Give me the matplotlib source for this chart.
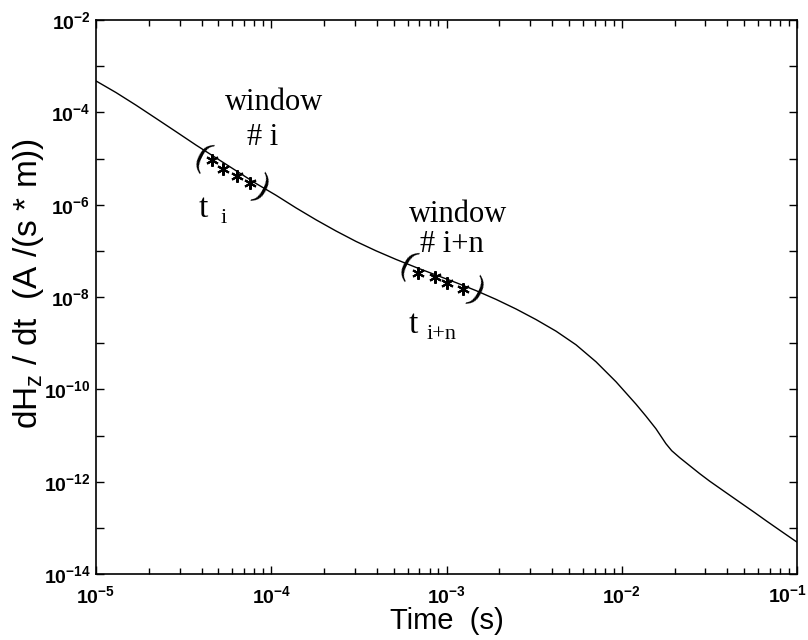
import matplotlib
matplotlib.use("Agg")
import matplotlib.pyplot as plt
from matplotlib.ticker import LogLocator, FuncFormatter, NullLocator
from matplotlib.transforms import blended_transform_factory, ScaledTranslation
import numpy as np

# ---- data (log10 units) ----
log10_time_s = [-5.000, -4.886, -4.772, -4.658, -4.543, -4.429, -4.315, -4.201,
                -4.087, -3.973, -3.859, -3.744, -3.630, -3.516, -3.402, -3.288,
                -3.174, -3.060, -2.946, -2.832, -2.717, -2.603, -2.489, -2.375,
                -2.261, -2.147, -2.033, -1.919, -1.862, -1.805, -1.748, -1.715,
                -1.669, -1.612, -1.555, -1.498, -1.413, -1.327, -1.241, -1.173,
                -1.087, -1.000]
log10_dhz_dt = [-3.320, -3.571, -3.844, -4.130, -4.420, -4.710, -4.987, -5.264,
                -5.541, -5.796, -6.069, -6.329, -6.571, -6.797, -7.000, -7.186,
                -7.359, -7.524, -7.688, -7.861, -8.052, -8.260, -8.489, -8.740,
                -9.035, -9.403, -9.835, -10.320, -10.580, -10.853, -11.177, -11.329,
                -11.481, -11.654, -11.827, -11.990, -12.216, -12.444, -12.671, -12.855,
                -13.082, -13.310]

win_i_t = [4.59e-5, 5.31e-5, 6.38e-5, 7.57e-5]
win_i_v = [9.3e-6, 5.96e-6, 4.2e-6, 2.96e-6]
win_n_t = [6.87e-4, 8.59e-4, 1.007e-3, 1.24e-3]
win_n_v = [3.34e-8, 2.74e-8, 2.03e-8, 1.50e-8]

x_label = "Time  (s)"
y_label = r"dH$_\mathregular{z}$ / dt  (A /(s * m))"

time_s = 10.0 ** np.array(log10_time_s)
dhz_dt = 10.0 ** np.array(log10_dhz_dt)

# ---- figure ----
plt.rcParams['font.family'] = ['Liberation Sans', 'DejaVu Sans']
plt.rcParams['mathtext.default'] = 'regular'

fig = plt.figure(figsize=(8.08, 6.4), dpi=100)
ax = fig.add_axes([96/808, 1-574/640, (797-96)/808, (574-20)/640])
ax.set_xscale('log')
ax.set_yscale('log')
ax.set_xlim(1e-5, 1e-1)
ax.set_ylim(1e-14, 1e-2)

ax.plot(time_s, dhz_dt, color='black', lw=1.0)

ast = (6, 2, 0)
ax.plot(win_i_t, win_i_v, ls='none', marker=ast, ms=9, mew=1.5, color='black')
ax.plot(win_n_t, win_n_v, ls='none', marker=ast, ms=9, mew=1.5, color='black')

serif = ['Liberation Serif', 'DejaVu Serif']
# brackets
for tx, vy, s in [(10**-4.395, 10**-4.965, '('), (10**-4.053, 10**-5.636, ')'),
                  (10**-3.225, 10**-7.303, '('), (10**-2.826, 10**-7.887, ')')]:
    ax.text(tx, vy, s, family=serif, fontsize=26, ha='center', va='center',
            rotation=-27)

# annotations
ax.text(10**-3.984, 10**-3.948, 'window', family=serif, fontsize=22,
        ha='center', va='baseline')
ax.text(10**-4.047, 10**-4.706, '# i', family=serif, fontsize=22,
        ha='center', va='baseline')
ax.text(10**-2.934, 10**-6.372, 'window', family=serif, fontsize=22,
        ha='center', va='baseline')
ax.text(10**-2.969, 10**-7.022, '# i+n', family=serif, fontsize=22,
        ha='center', va='baseline')

ax.text(10**-4.415, 10**-6.264, 't', family=serif, fontsize=24,
        ha='left', va='baseline')
ax.text(10**-4.290, 10**-6.40, 'i', family=serif, fontsize=16,
        ha='left', va='baseline')
ax.text(10**-3.215, 10**-8.775, 't', family=serif, fontsize=24,
        ha='left', va='baseline')
ax.text(10**-3.115, 10**-8.91, 'i+n', family=serif, fontsize=16,
        ha='left', va='baseline')

# ticks
ax.xaxis.set_major_locator(LogLocator(base=10, numticks=10))
ax.xaxis.set_minor_locator(LogLocator(base=10, subs=np.arange(2, 10), numticks=10))
ax.yaxis.set_major_locator(LogLocator(base=10, numticks=20))
ax.yaxis.set_minor_locator(NullLocator())

def yfmt(v, pos):
    e = int(round(np.log10(v)))
    return r'$10^{%d}$' % e if e % 2 == 0 else ''

def xfmt(v, pos):
    e = int(round(np.log10(v)))
    if e == -1:
        return ''
    return r'$10^{%d}$' % e

ax.yaxis.set_major_formatter(FuncFormatter(yfmt))
ax.xaxis.set_major_formatter(FuncFormatter(xfmt))
ax.tick_params(which='both', direction='in', top=True, right=True, width=1.0)
ax.tick_params(which='major', length=6, labelsize=14)
ax.tick_params(axis='x', which='major', pad=8)
ax.tick_params(axis='y', which='major', pad=4)
ax.tick_params(which='minor', length=4)
for lab in ax.get_xticklabels() + ax.get_yticklabels():
    lab.set_fontweight('bold')

# last x tick label kept inside the figure, as in the reference
trans = blended_transform_factory(ax.transData, ax.transAxes) + \
    ScaledTranslation(0.10, -0.10, fig.dpi_scale_trans)
ax.text(1e-1, 0, r'$10^{-1}$', transform=trans, fontsize=14, fontweight='bold',
        ha='right', va='top')

for sp in ax.spines.values():
    sp.set_linewidth(1.2)

ax.set_xlabel(x_label, fontsize=21, labelpad=0)
ax.set_ylabel(y_label, fontsize=24)
ax.yaxis.set_label_coords(-0.072, 0.525)

fig.savefig('out.png', dpi=100)
